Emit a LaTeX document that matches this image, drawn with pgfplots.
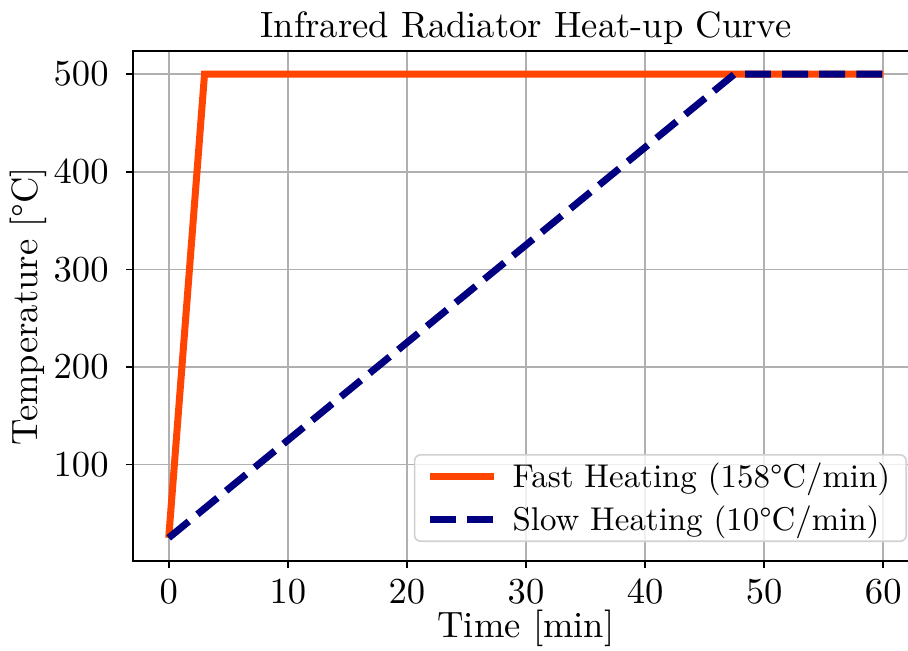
\documentclass[border=0pt]{standalone}
\usepackage{pgfplots}
\pgfplotsset{compat=1.18}
\definecolor{fastc}{RGB}{255,69,0}
\definecolor{slowc}{RGB}{0,0,128}
\definecolor{gridc}{RGB}{176,176,176}
\newcommand{\bigtxt}[1]{\scalebox{1.83}{#1}}
\newcommand{\legtxt}[1]{\scalebox{1.645}{#1}}
\begin{document}
\begin{tikzpicture}
\useasboundingbox (-66.5pt,-44.5pt) rectangle (387.5pt,280.5pt);
\clip (-66.5pt,-44.5pt) rectangle (387.5pt,280.5pt);
\begin{axis}[
 at={(0,0)}, anchor=south west,
 scale only axis, width=393pt, height=255pt,
 xmin=-3, xmax=63, ymin=1.25, ymax=523.75,
 xtick={0,10,...,60}, ytick={100,200,...,500},
 grid=major, grid style={gridc, line width=0.8pt},
 axis line style={line width=0.8pt},
 tick align=outside, tick pos=left,
 tick style={black, line width=0.8pt}, major tick length=3.5pt,
 font=\fontsize{10}{12}\selectfont,
 xticklabel={\bigtxt{$\pgfmathprintnumber{\tick}$}},
 yticklabel={\bigtxt{$\pgfmathprintnumber{\tick}$}},
 xticklabel style={anchor=base, inner sep=0pt, yshift=-17.5pt},
 yticklabel style={anchor=east, inner sep=0pt, xshift=-8.5pt},
 title={\bigtxt{Infrared Radiator Heat-up Curve}},
 title style={at={(axis description cs:0.5,1.02745)}, anchor=base, inner sep=0pt, yshift=-6pt},
 xlabel={\bigtxt{Time [min]}}, ylabel={\bigtxt{Temperature [\textdegree C]}},
 xlabel style={at={(axis description cs:0.5,-0.149)}, anchor=base, inner sep=0pt},
 ylabel style={at={(axis description cs:-0.1221,0.5)}, anchor=base, inner sep=0pt, rotate=0},
 legend cell align=left,
 legend style={at={(axis description cs:1,0)}, anchor=south east, xshift=-6pt, yshift=9.5pt,
   draw=black!18, line width=0.8pt, rounded corners=3pt, fill=white,
   fill opacity=0.8, draw opacity=1, text opacity=1,
   inner xsep=6pt, inner ysep=2pt, row sep=3.5pt, column sep=5.5pt,
   nodes={inner sep=2pt},
   font=\fontsize{10}{12}\selectfont},
 legend image code/.code={\draw[#1] (0pt,0pt) -- (32pt,0pt);},
]
\addplot[fastc, line width=3.5pt] coordinates {(0,25) (3.006,500) (60,500)};
\addlegendentry{\legtxt{Fast Heating (158\textdegree C/min)}}
\addplot[slowc, line width=3.5pt, dash pattern=on 12.95pt off 5.6pt] coordinates {(0,25) (47.5,500) (60,500)};
\addlegendentry{\legtxt{Slow Heating (10\textdegree C/min)}}
\end{axis}
\end{tikzpicture}
\end{document}
